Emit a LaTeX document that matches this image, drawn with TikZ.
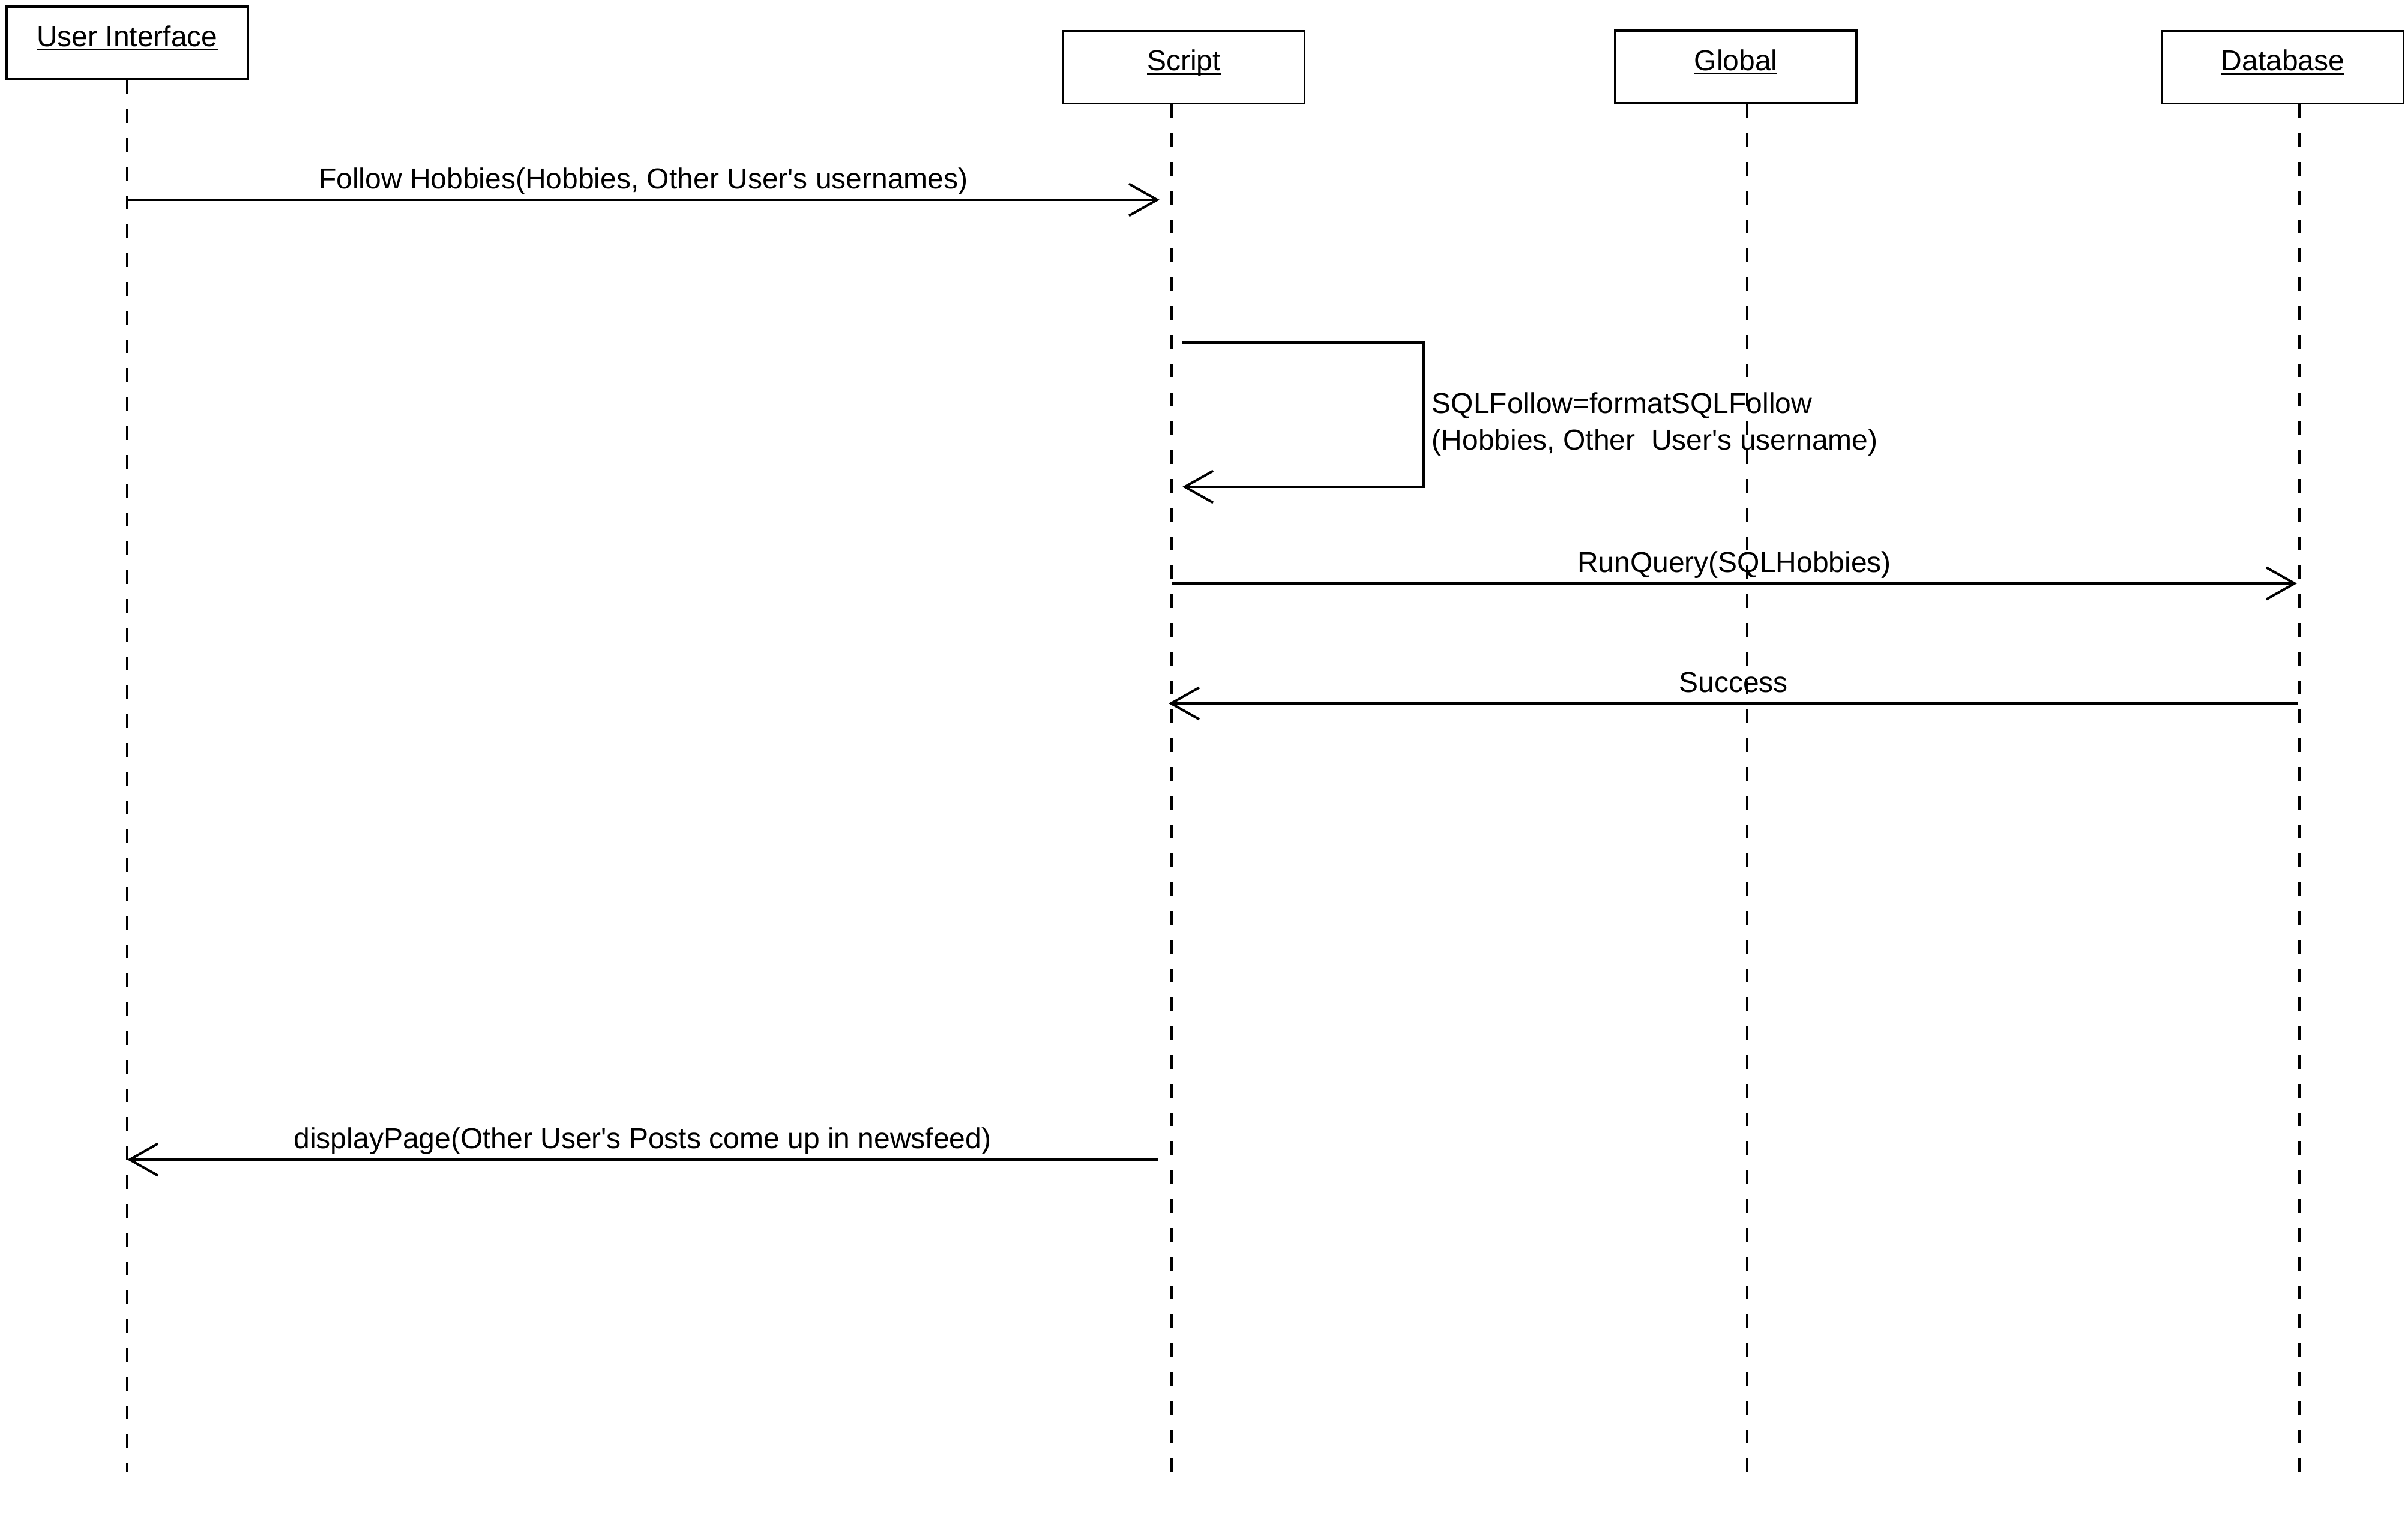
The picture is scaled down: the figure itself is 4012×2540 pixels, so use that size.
\documentclass[tikz,border=0pt]{standalone}
\usepackage{fontspec}
\setmainfont{Liberation Sans}
\usetikzlibrary{arrows.meta}

% underlined participant name with a fixed rule position
\newcommand{\ulname}[1]{\setbox0\hbox{#1}\rlap{\rule[-1.85pt]{\wd0}{0.7pt}}\box0}
% straight apostrophe
\newcommand{\ap}{\textquotesingle}

\begin{document}
\begin{tikzpicture}[x=0.25pt, y=-0.25pt,
  font=\fontsize{12pt}{15.25pt}\selectfont,
  actor/.style={draw, line width=0.9pt, inner sep=0pt, minimum width=100.5pt,
                text height=16.5pt, text depth=13.75pt},
  lifeline/.style={line width=1pt, dash pattern=on 5.75pt off 6.25pt},
  msg/.style={line width=1pt, -{Straight Barb[length=11.75pt,width=13.25pt]}},
  lbl/.style={anchor=base, inner sep=0pt, yshift=4.75pt}]

\useasboundingbox (0,0) rectangle (4012,2540);

% participants
\node[actor] (ui) at (212,71.5)   {\ulname{User Interface}};
\node[actor] (sc) at (1972.5,112) {\ulname{Script}};
\node[actor] (gl) at (2892,111.5) {\ulname{Global}};
\node[actor] (db) at (3803.5,112) {\ulname{Database}};

% lifeline ends
\coordinate (ui-end) at (212,2452);
\coordinate (sc-end) at (1952,2452);
\coordinate (gl-end) at (2911,2452);
\coordinate (db-end) at (3831,2452);

\draw[lifeline] (ui.south -| ui-end) -- (ui-end);
\draw[lifeline] (sc.south -| sc-end) -- (sc-end);
\draw[lifeline] (gl.south -| gl-end) -- (gl-end);
\draw[lifeline] (db.south -| db-end) -- (db-end);

% message anchor points
\coordinate (m1a) at (212,333);
\coordinate (m1b) at (1932,333);
\coordinate (m2a) at (1970,571);
\coordinate (m2c) at (2372,811);
\coordinate (m2b) at (1970,811);
\coordinate (m3a) at (1952,972);
\coordinate (m3b) at (3827,972);
\coordinate (m4a) at (3829,1172);
\coordinate (m4b) at (1947,1172);
\coordinate (m5a) at (1929,1932);
\coordinate (m5b) at (212,1932);

% messages
\draw[msg] (m1a) -- node[lbl] {Follow Hobbies(Hobbies, Other User\ap s usernames)} (m1b);

\draw[msg] (m2a) -| (m2c) -- (m2b);
% base anchor sits on the last line of a multi-line node
\node[anchor=base west, inner sep=0pt, align=left] (m2l) at (2385,749)
  {SQLFollow=formatSQLFollow\\(Hobbies, Other\ \ User\ap s username)};

\draw[msg] (m3a) -- node[lbl] {RunQuery(SQLHobbies)} (m3b);
\draw[msg] (m4a) -- node[lbl] {Success} (m4b);
\draw[msg] (m5a) -- node[lbl] {displayPage(Other User\ap s Posts come up in newsfeed)} (m5b);

\end{tikzpicture}
\end{document}
